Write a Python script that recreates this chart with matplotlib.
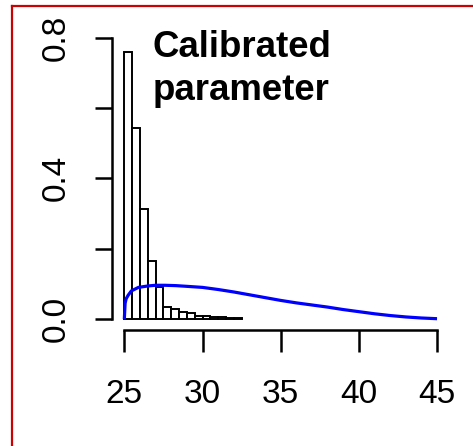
import matplotlib
matplotlib.use("Agg")
import matplotlib.pyplot as plt
from matplotlib import font_manager
from matplotlib.lines import Line2D

# Histogram of the calibrated parameter (density scale, bins of width 0.5)
bin_edges = [25.0, 25.5, 26.0, 26.5, 27.0, 27.5, 28.0, 28.5, 29.0, 29.5,
             30.0, 30.5, 31.0, 31.5, 32.0, 32.5]
densities = [0.758, 0.544, 0.314, 0.165, 0.090, 0.033, 0.028, 0.021, 0.016,
             0.010, 0.009, 0.006, 0.006, 0.004, 0.003]

# Prior density curve
prior_x = [25.0, 25.05, 25.12, 25.25, 25.45, 25.9, 26.5, 27.0, 27.6, 28.3,
           29.0, 30.0, 31.0, 32.0, 33.0, 34.0, 35.0, 36.0, 37.0, 38.0,
           39.0, 40.0, 41.0, 42.0, 43.0, 44.0, 45.0]
prior_y = [0.0, 0.045, 0.058, 0.068, 0.080, 0.090, 0.094, 0.096, 0.096, 0.095,
           0.093, 0.090, 0.084, 0.077, 0.069, 0.061, 0.053, 0.046, 0.040, 0.034,
           0.027, 0.021, 0.015, 0.010, 0.006, 0.003, 0.001]

x_ticks = [25, 30, 35, 40, 45]
y_ticks = [0.0, 0.2, 0.4, 0.6, 0.8]
y_tick_labels = ["0.0", "", "0.4", "", "0.8"]
title_lines = ["Calibrated", "parameter"]

installed = {f.name for f in font_manager.fontManager.ttflist}
tick_font = "Liberation Sans Narrow" if "Liberation Sans Narrow" in installed else "Liberation Sans"

fig = plt.figure(figsize=(4.73, 4.46), dpi=100)
ax = fig.add_axes([0.2364, 0.2594, 0.714, 0.6814])

widths = [b - a for a, b in zip(bin_edges[:-1], bin_edges[1:])]
ax.bar(bin_edges[:-1], densities, width=widths, align="edge",
       facecolor="white", edgecolor="black", linewidth=1.4)
ax.plot(prior_x, prior_y, color="#0000FF", linewidth=2.3, solid_capstyle="butt")

ax.set_xlim(24.2, 45.8)
ax.set_ylim(-0.032, 0.832)

for side in ("top", "right"):
    ax.spines[side].set_visible(False)
ax.spines["left"].set_bounds(0.0, 0.8)
ax.spines["bottom"].set_bounds(25, 45)
ax.spines["left"].set_position(("data", 24.2))
ax.spines["bottom"].set_position(("data", -0.032))
for side in ("left", "bottom"):
    ax.spines[side].set_linewidth(1.8)
    ax.spines[side].set_capstyle("projecting")

ax.set_xticks(x_ticks)
ax.set_xticklabels([str(t) for t in x_ticks], fontfamily=tick_font, fontsize=24)
ax.set_yticks(y_ticks)
ax.set_yticklabels(y_tick_labels, fontfamily=tick_font, fontsize=24,
                   rotation=90, va="center")
ax.tick_params(axis="x", length=16, width=1.8, pad=19, direction="out")
ax.tick_params(axis="y", length=12, width=1.8, pad=17, direction="out")

ax.text(26.82, 0.744, title_lines[0], fontfamily="Liberation Sans",
        fontweight="bold", fontsize=26.4, va="baseline", ha="left")
ax.text(26.82, 0.623, title_lines[1], fontfamily="Liberation Sans",
        fontweight="bold", fontsize=26.4, va="baseline", ha="left")

# Red frame along the top and left edges
W, H = 473.0, 446.0
fig.add_artist(Line2D([12 / W, 1.0], [1 - 6 / H, 1 - 6 / H],
                      transform=fig.transFigure, color="#CC0000", linewidth=1.6))
fig.add_artist(Line2D([12 / W, 12 / W], [0.0, 1 - 6 / H],
                      transform=fig.transFigure, color="#CC0000", linewidth=1.6))

fig.savefig("out.png", dpi=100)
